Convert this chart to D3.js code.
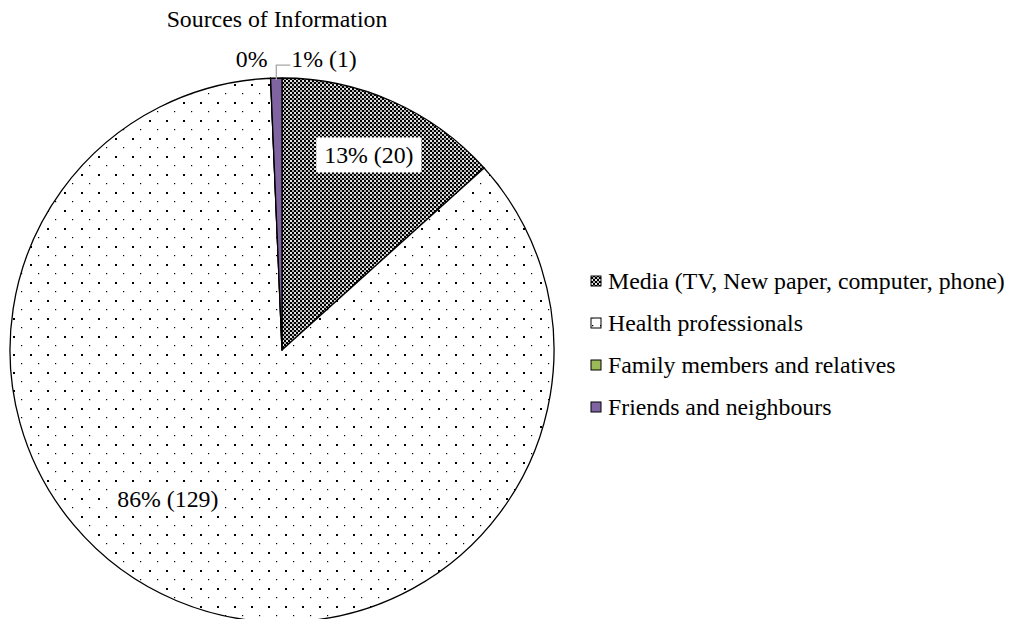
<!DOCTYPE html>
<html>
<head>
<meta charset="utf-8">
<script src="https://cdn.jsdelivr.net/npm/d3@7"></script>
<style>
  html, body { margin: 0; padding: 0; background: #fff; }
  svg { display: block; font-family: "Times New Roman", "Liberation Serif", serif; }
</style>
</head>
<body>
<svg id="chart" width="1013" height="619"></svg>
<script>
// Sources of information reported by respondents
const title = "Sources of Information";
const categories = [
  "Media (TV, New paper, computer, phone)",
  "Health professionals",
  "Family members and relatives",
  "Friends and neighbours"
];
const counts = [20, 129, 0, 1];
const percents = [13, 86, 0, 1];

const svg = d3.select("#chart");
const cx = 282, cy = 350, R = 272;
const FS = 23.8;

// fill patterns
const defs = svg.append("defs");
const checker = defs.append("pattern")
  .attr("id", "pat-checker").attr("patternUnits", "userSpaceOnUse")
  .attr("width", 4).attr("height", 4);
checker.append("rect").attr("width", 4).attr("height", 4).attr("fill", "#fff");
checker.append("rect").attr("x", 0).attr("y", 0).attr("width", 2).attr("height", 2).attr("fill", "#000");
checker.append("rect").attr("x", 2).attr("y", 2).attr("width", 2).attr("height", 2).attr("fill", "#000");
checker.append("rect").attr("x", 2).attr("y", 0).attr("width", 2).attr("height", 2).attr("fill", "#000").attr("opacity", 0.3);
checker.append("rect").attr("x", 0).attr("y", 2).attr("width", 2).attr("height", 2).attr("fill", "#000").attr("opacity", 0.1);

const dots = defs.append("pattern")
  .attr("id", "pat-dots").attr("patternUnits", "userSpaceOnUse")
  .attr("x", 3).attr("y", 4)
  .attr("width", 17).attr("height", 18);
dots.append("rect").attr("width", 17).attr("height", 18).attr("fill", "#fff");
dots.append("rect").attr("x", 0).attr("y", 0).attr("width", 2).attr("height", 2).attr("fill", "#000");
dots.append("rect").attr("x", 8).attr("y", 9).attr("width", 1.2).attr("height", 1.2).attr("fill", "#000");

const legendDots = defs.append("pattern")
  .attr("id", "pat-dots-small").attr("patternUnits", "userSpaceOnUse")
  .attr("width", 8).attr("height", 8);
legendDots.append("rect").attr("width", 8).attr("height", 8).attr("fill", "#fff");
legendDots.append("rect").attr("x", 1).attr("y", 2).attr("width", 1.3).attr("height", 1.3).attr("fill", "#000");

const fills = ["url(#pat-checker)", "url(#pat-dots)", "#9BBB59", "#8064A2"];
const legendFills = ["url(#pat-checker)", "url(#pat-dots-small)", "#9BBB59", "#8064A2"];

const color = d3.scaleOrdinal().domain(categories).range(fills);
const legendColor = d3.scaleOrdinal().domain(categories).range(legendFills);

const data = categories.map((c, i) => ({ cat: c, count: counts[i], pct: percents[i] }));

const pie = d3.pie().sort(null).value(d => d.count);
const arcs = pie(data);
const arc = d3.arc().innerRadius(0).outerRadius(R);

const g = svg.append("g").attr("transform", `translate(${cx},${cy})`);

g.selectAll("path.slice")
  .data(arcs)
  .join("path")
  .attr("class", "slice")
  .attr("d", arc)
  .attr("fill", d => color(d.data.cat))
  .attr("stroke", "#000")
  .attr("stroke-width", 1.3)
  .attr("stroke-linejoin", "round");

// title
svg.append("text")
  .attr("x", 277).attr("y", 27)
  .attr("text-anchor", "middle")
  .attr("font-size", FS)
  .attr("fill", "#000")
  .text(title);

const labelText = d => `${d.data.pct}% (${d.data.count})`;

function placeAt(angle, radius) {
  return [Math.sin(angle) * radius, -Math.cos(angle) * radius];
}

// media slice label on a white box
const media = arcs[0];
const [mx, my] = placeAt((media.startAngle + media.endAngle) / 2, R * 0.785);
const mediaLabel = g.append("g").attr("transform", `translate(${mx},${my})`);
const mediaText = mediaLabel.append("text")
  .attr("text-anchor", "middle").attr("dy", "0.35em")
  .attr("font-size", FS).attr("fill", "#000")
  .text(labelText(media));
const mb = mediaText.node().getBBox();
mediaLabel.insert("rect", "text")
  .attr("x", mb.x - 8).attr("y", -17.5)
  .attr("width", mb.width + 16).attr("height", 35)
  .attr("fill", "#fff");

// health professionals label
const health = arcs[1];
const [hx, hy] = placeAt((health.startAngle + health.endAngle) / 2 + 0.258, R * 0.688);
const healthLabel = g.append("g").attr("transform", `translate(${hx},${hy})`);
const healthText = healthLabel.append("text")
  .attr("text-anchor", "middle").attr("dy", "0.35em")
  .attr("font-size", FS).attr("fill", "#000")
  .text(labelText(health));
const hb = healthText.node().getBBox();
healthLabel.insert("rect", "text")
  .attr("x", hb.x - 3).attr("y", -14)
  .attr("width", hb.width + 6).attr("height", 28)
  .attr("fill", "#fff");

// outside labels for the thin slices
const family = arcs[2];
const [fx, fy] = placeAt(family.startAngle, R);
g.append("text")
  .attr("x", fx - 19).attr("y", fy - 11)
  .attr("text-anchor", "middle")
  .attr("font-size", FS).attr("fill", "#000")
  .text(`${family.data.pct}%`);

const friends = arcs[3];
const [px, py] = placeAt((friends.startAngle + friends.endAngle) / 2, R);
g.append("polyline")
  .attr("points", [[px, py + 2], [px, py - 13], [px + 14, py - 13]].map(p => p.join(",")).join(" "))
  .attr("fill", "none").attr("stroke", "#a6a6a6").attr("stroke-width", 1.3);
g.append("text")
  .attr("x", px + 15).attr("y", py - 11)
  .attr("text-anchor", "start")
  .attr("font-size", FS).attr("fill", "#000")
  .text(labelText(friends));

// legend
const legendY = d3.scalePoint().domain(categories).range([281, 407]);
const legend = svg.append("g").selectAll("g")
  .data(categories)
  .join("g")
  .attr("transform", c => `translate(591,${legendY(c)})`);
legend.append("rect")
  .attr("x", 0).attr("y", -5)
  .attr("width", 10).attr("height", 10)
  .attr("fill", c => legendColor(c))
  .attr("stroke", "#000").attr("stroke-width", 1);
legend.append("text")
  .attr("x", 17).attr("dy", "0.35em")
  .attr("font-size", FS).attr("fill", "#000")
  .text(c => c);
</script>
</body>
</html>
